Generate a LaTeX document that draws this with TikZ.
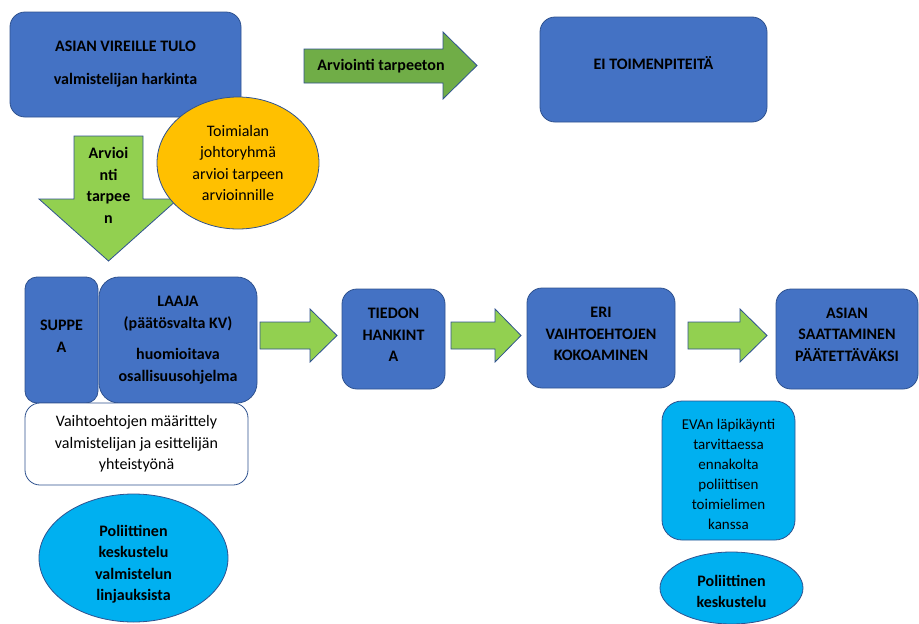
\documentclass[tikz,border=0pt]{standalone}
\usepackage{fontspec}
\setmainfont{Carlito}
\usetikzlibrary{shapes.geometric}
\definecolor{boxblue}{HTML}{4472C4}
\definecolor{edgeblue}{HTML}{2F528F}
\definecolor{darkgreen}{HTML}{70AD47}
\definecolor{lightgreen}{HTML}{92D050}
\definecolor{orangefill}{HTML}{FFC000}
\definecolor{cyanfill}{HTML}{00B0F0}
\begin{document}
\begin{tikzpicture}
    [x=1pt, y=-1pt, line width=0.8pt,
      every node/.style={align=center, inner sep=1pt, font=\fontsize{16}{21.5}\selectfont},
      box/.style={rectangle, rounded corners=15pt, draw=edgeblue, fill=boxblue,
        font=\fontsize{16}{21.5}\selectfont\bfseries},
      boldtxt/.style={font=\fontsize{16}{21.5}\selectfont\bfseries},
      whitebox/.style={rectangle, rounded corners=15pt, draw=edgeblue, fill=white},
      cyanbox/.style={rectangle, rounded corners=20pt, draw=edgeblue, fill=cyanfill},
      cyantxt/.style={font=\fontsize{15}{20}\selectfont},
      orangeell/.style={ellipse, draw=edgeblue, fill=orangefill, inner sep=0pt},
      blueell/.style={ellipse, draw=edgeblue, fill=cyanfill, inner sep=0pt},
      darkarrow/.style={draw=edgeblue, fill=darkgreen, line join=miter},
      lightarrow/.style={draw=edgeblue, fill=lightgreen, line join=miter},
     ]
    \useasboundingbox (0,0) rectangle (919,624);

    % top row
    \node[box, minimum width=231pt, minimum height=105pt] (vireille) at (125.5,64.5)
      {ASIAN VIREILLE TULO\\[11.5pt]valmistelijan harkinta};
    \node[box, minimum width=227pt, minimum height=105pt,
      label={[boldtxt, yshift=6pt, name=eitxt]center:EI TOIMENPITEITÄ}] (eitoimen)
      at (653.5,69.5) {};
    \draw[darkarrow] (304,49) -- (443,49) -- (443,32) -- (477,65.5) -- (443,99)
      -- (443,83) -- (304,83) -- cycle;
    \node[boldtxt] (tarpeeton) at (381,66) {Arviointi tarpeeton};

    % down arrow and the steering group
    \draw[lightarrow] (74,136) -- (143,136) -- (143,199) -- (178,199) -- (108.5,261)
      -- (39,199) -- (74,199) -- cycle;
    \node[boldtxt] (tarpeen) at (108.5,185.5) {Arvioi\\nti\\tarpee\\n};
    \node[orangeell, minimum width=162pt, minimum height=132pt] (johto) at (238,163)
      {Toimialan\\johtoryhmä\\arvioi tarpeen\\arvioinnille};

    % middle row
    \node[box, rounded corners=12pt, minimum width=73pt, minimum height=126pt,
      label={[boldtxt, yshift=4pt, name=suppeatxt]center:SUPPE\\A}] (suppea)
      at (61.5,340) {};
    \node[box, rounded corners=20pt, minimum width=158pt, minimum height=126pt] (laaja)
      at (178,340) {LAAJA\\(päätösvalta KV)\\[10pt]huomioitava\\osallisuusohjelma};
    \node[whitebox, minimum width=223pt, minimum height=82pt] (maarittely) at (136.5,444)
      {Vaihtoehtojen määrittely\\valmistelijan ja esittelijän\\yhteistyönä};
    \draw[lightarrow] (260,322) -- (310,322) -- (310,309) -- (337,335.5) -- (310,362)
      -- (310,349) -- (260,349) -- cycle;
    \node[box, minimum width=103pt, minimum height=100pt,
      label={[boldtxt, yshift=4pt, name=tiedontxt]center:TIEDON\\HANKINT\\A}] (tiedon)
      at (393.5,339) {};
    \draw[lightarrow] (451,322) -- (495,322) -- (495,309) -- (521,335.5) -- (495,362)
      -- (495,349) -- (451,349) -- cycle;
    \node[box, minimum width=148pt, minimum height=100pt,
      label={[boldtxt, yshift=4pt, name=eritxt]center:ERI\\VAIHTOEHTOJEN\\KOKOAMINEN}]
      (eri) at (601,338) {};
    \draw[lightarrow] (688,322) -- (740,322) -- (740,309) -- (767,335.5) -- (740,362)
      -- (740,349) -- (688,349) -- cycle;
    \node[box, minimum width=142pt, minimum height=100pt,
      label={[boldtxt, yshift=4.5pt, name=saattaminentxt]center:ASIAN\\SAATTAMINEN\\PÄÄTETTÄVÄKSI}]
      (saattaminen) at (847,339) {};

    % bottom
    \node[blueell, minimum width=189pt, minimum height=128pt,
      label={[boldtxt, yshift=-6pt, name=keskustelu1txt]center:Poliittinen\\keskustelu\\valmistelun\\linjauksista}]
      (keskustelu1) at (133.5,558) {};
    \node[cyanbox, minimum width=133pt, minimum height=139pt,
      label={[cyantxt, yshift=-4pt, name=evatxt]center:EVAn läpikäynti\\tarvittaessa\\ennakolta\\poliittisen\\toimielimen\\kanssa}]
      (eva) at (728.5,470.5) {};
    \node[blueell, minimum width=143pt, minimum height=72pt,
      label={[boldtxt, yshift=-3.5pt, name=keskustelu2txt]center:Poliittinen\\keskustelu}]
      (keskustelu2) at (731.5,588) {};
\end{tikzpicture}
\end{document}
